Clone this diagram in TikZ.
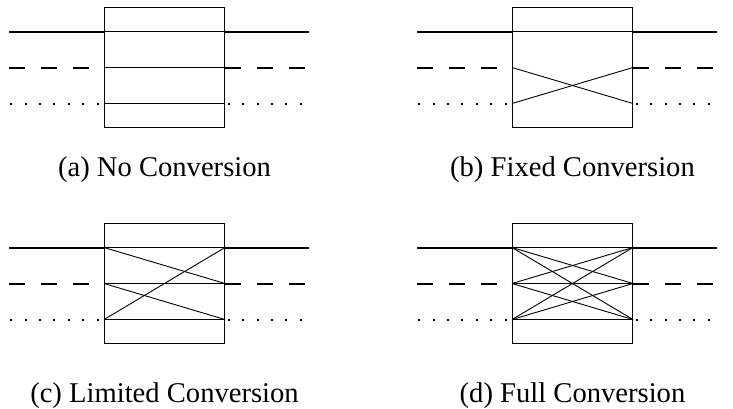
\documentclass[tikz,border=0pt]{standalone}
\usepackage{fontspec}
\setmainfont{Liberation Serif}
\tikzset{
  oxc/.style={draw, line width=0.9pt, minimum width=120pt, minimum height=120pt, inner sep=0pt},
  wsolid/.style={line width=2pt},
  wdash/.style={line width=2pt, dash pattern=on 16pt off 16pt},
  wdot/.style={line width=2pt, dash pattern=on 2pt off 12.4pt},
  xc/.style={line width=0.9pt},
  capt/.style={anchor=base, inner sep=0pt, font=\fontsize{28.6}{34}\selectfont}
}
% one switch: box, ports, fibres in and out, caption
\newcommand{\oxcpanel}[4]{%
  \node[oxc] (#1box) at (#2) {};
  \foreach \k/\dy in {1/36,2/0,3/-36}{
    \coordinate (#1l\k) at ([yshift=\dy pt]#1box.west);
    \coordinate (#1r\k) at ([yshift=\dy pt]#1box.east);
  }
  \coordinate (#1a1) at ([xshift=-95.5pt]#1l1);
  \coordinate (#1a2) at ([xshift=-95.5pt]#1l2);
  \coordinate (#1a3) at ([xshift=-93.8pt]#1l3);
  \coordinate (#1b1) at ([xshift=84pt]#1r1);
  \coordinate (#1b2) at ([xshift=84pt]#1r2);
  \coordinate (#1s3) at ([xshift=2.8pt]#1r3);
  \coordinate (#1b3) at ([xshift=81pt]#1r3);
  \draw[wsolid] (#1a1) -- (#1l1);
  \draw[wsolid] (#1r1) -- (#1b1);
  \draw[wdash] (#1a2) -- (#1l2);
  \draw[wdash] (#1r2) -- (#1b2);
  \draw[wdot] (#1a3) -- (#1l3);
  \draw[wdot] (#1s3) -- (#1b3);
  \node[capt] (#1cap) at ([yshift=-#4]#1box.center) {#3};
}
\begin{document}
\begin{tikzpicture}[x=1pt,y=-1pt]
  \useasboundingbox (0,0) rectangle (733,408);
  \oxcpanel{no}{164.5,67.5}{(a) No Conversion}{109.2pt}
  \oxcpanel{fx}{572.5,67.5}{(b) Fixed Conversion}{109.2pt}
  \oxcpanel{lim}{164.5,283.5}{(c) Limited Conversion}{119.2pt}
  \oxcpanel{full}{572.5,283.5}{(d) Full Conversion}{119.2pt}
  % cross connections inside the boxes
  \foreach \i/\j in {1/1,2/2,3/3}
    \draw[xc] (nol\i) -- (nor\j);
  \foreach \i/\j in {1/1,2/3,3/2}
    \draw[xc] (fxl\i) -- (fxr\j);
  \foreach \i/\j in {1/1,2/2,3/3,1/2,2/3,3/1}
    \draw[xc] (liml\i) -- (limr\j);
  \foreach \i in {1,2,3}
    \foreach \j in {1,2,3}
      \draw[xc] (fulll\i) -- (fullr\j);
\end{tikzpicture}
\end{document}
